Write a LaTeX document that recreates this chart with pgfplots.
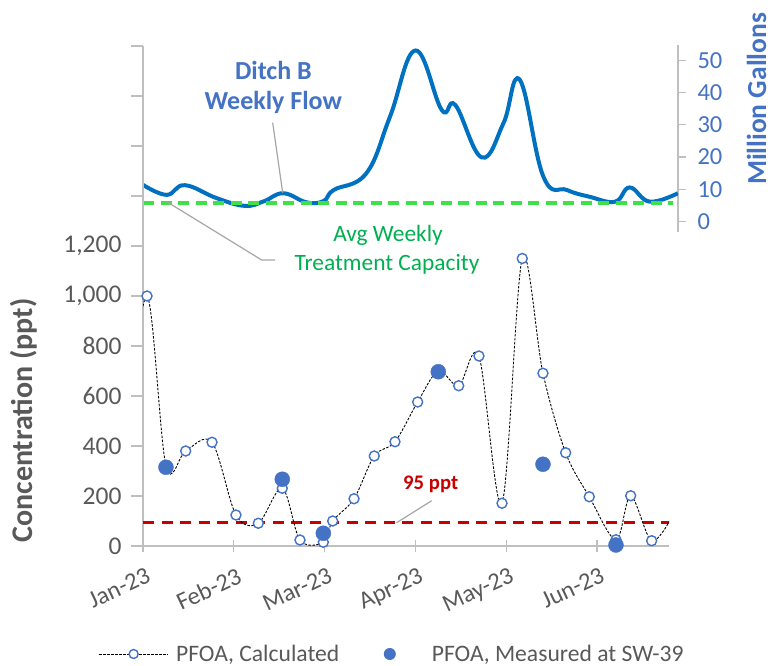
\documentclass[border=0pt]{standalone}
\usepackage{pgfplots}
\pgfplotsset{compat=1.18}
\usepackage{fontspec}
\setmainfont{Carlito}
\definecolor{txtgray}{RGB}{89,89,89}
\definecolor{axgray}{RGB}{191,191,191}
\definecolor{flowblue}{RGB}{0,112,192}
\definecolor{mblue}{RGB}{68,114,196}
\definecolor{dgreen}{RGB}{64,224,72}
\definecolor{tgreen}{RGB}{0,176,80}
\definecolor{dred}{RGB}{200,0,0}
\definecolor{leadgray}{RGB}{166,166,166}
\begin{document}
\begin{tikzpicture}
\path[use as bounding box] (0,0) rectangle (771bp,666bp);

% ---------- top axis: weekly flow ----------
\begin{axis}[
  at={(143bp,434.3bp)}, anchor=south west, scale only axis,
  width=535bp, height=186.7bp,
  xmin=0, xmax=5.892, ymin=-3.1, ymax=54.7,
  axis x line=none, axis y line*=right,
  axis line style={axgray, line width=1.2bp},
  ytick={0,10,20,30,40,50}, yticklabels={0,10,20,30,40,50},
  tick align=outside, major tick length=8bp,
  tick style={axgray, line width=1.2bp},
  yticklabel style={font=\fontsize{24.5bp}{28bp}\selectfont, text=mblue, anchor=west, xshift=8bp},
]
\addplot[flowblue, line width=4bp, smooth, tension=0.7] coordinates {
(0,11.4) (0.26,8.3) (0.46,11.3) (0.81,7.3) (1.12,4.9) (1.33,6.3) (1.545,8.8)
(1.80,6.0) (1.99,6.4) (2.10,9.8) (2.46,15) (2.72,32.5) (3.00,53) (3.29,34.6)
(3.44,36.1) (3.73,19.9) (3.97,30.5) (4.15,43.9) (4.41,13.9) (4.67,9.8)
(4.92,7.7) (5.20,6.2) (5.36,10.6) (5.58,6.2) (5.89,8.8)};
\addplot[dgreen, line width=4bp, dash pattern=on 11bp off 6.5bp] coordinates {(0,5.9) (5.837,5.9)};
\end{axis}

% ---------- bottom axis: concentration ----------
\begin{axis}[
  at={(143bp,120bp)}, anchor=south west, scale only axis,
  width=526bp, height=500bp,
  xmin=0, xmax=5.793, ymin=0, ymax=2000,
  axis x line*=bottom, axis y line*=left,
  axis line style={axgray, line width=1.2bp},
  xtick={0,1,2,3,4,5}, xticklabels={Jan-23,Feb-23,Mar-23,Apr-23,May-23,Jun-23},
  ytick={0,200,...,2000}, yticklabels={0,200,400,600,800,{1,000},{1,200},{},{},{},{}},
  tick align=center, major tick length=12bp,
  tick style={axgray, line width=1.2bp},
  ytick style={xshift=-6bp},
  yticklabel style={font=\fontsize{25.5bp}{30bp}\selectfont, text=txtgray, anchor=east, xshift=-12bp},
  xticklabel style={font=\fontsize{24.5bp}{28bp}\selectfont, text=txtgray, rotate=25, anchor=north east, inner sep=0bp, xshift=-4bp, yshift=-14bp},
  legend style={draw=none, fill=none, font=\fontsize{23.6bp}{28bp}\selectfont, text=txtgray,
    legend columns=2, at={(-0.0846,-0.216)}, anchor=west, inner sep=0pt,
    nodes={inner sep=0bp},
    /tikz/every odd column/.append style={column sep=7.5bp},
    /tikz/every even column/.append style={column sep=16bp}},
]
\addplot[dred, line width=3bp, dash pattern=on 11bp off 7.5bp, forget plot] coordinates {(0,95) (5.793,95)};
\addplot[black, line width=0.9bp, dash pattern=on 2.5bp off 1.5bp, smooth, tension=0.55, forget plot] coordinates {
(-0.2,420) (0.044,1000) (0.253,320) (0.470,380) (0.760,415) (1.024,124) (1.270,91)
(1.534,231) (1.729,24) (1.986,15) (2.089,100) (2.324,189) (2.547,360) (2.775,417)
(3.025,576) (3.252,700) (3.477,641) (3.700,760) (3.954,171) (4.177,1150) (4.405,691)
(4.655,373) (4.915,197) (5.209,25) (5.371,201) (5.602,21) (5.83,120)};
\addplot[only marks, mark=*, mark size=5bp, mark options={draw=mblue, fill=white, line width=1.4bp, solid}, forget plot] coordinates {
(0.044,1000) (0.253,320) (0.470,380) (0.760,415) (1.024,124) (1.270,91)
(1.534,231) (1.729,24) (1.986,15) (2.089,100) (2.324,189) (2.547,360) (2.775,417)
(3.025,576) (3.252,700) (3.477,641) (3.700,760) (3.954,171) (4.177,1150) (4.405,691)
(4.655,373) (4.915,197) (5.209,25) (5.371,201) (5.602,21)};
\addplot[only marks, mark=*, mark size=7.5bp, mark options={draw=mblue, fill=mblue}, forget plot] coordinates {
(0.253,315) (1.534,267) (1.986,51) (3.252,697) (4.405,327) (5.209,4)};
\addlegendimage{legend image code/.code={
  \draw[black, line width=0.9bp, dash pattern=on 2.5bp off 1.5bp] (0bp,0bp) -- (69bp,0bp);
  \draw[mblue, line width=1.4bp, fill=white] (34.5bp,0bp) circle (4.5bp);}}
\addlegendentry{PFOA, Calculated}
\addlegendimage{legend image code/.code={
  \path[draw=none, fill=none] (0bp,-1bp) rectangle (69bp,1bp);
  \fill[mblue, draw=none] (34.5bp,0bp) circle (6bp);}}
\addlegendentry{PFOA, Measured at SW-39}
\end{axis}

% ---------- annotations ----------
\node[font=\bfseries\fontsize{26bp}{30bp}\selectfont, text=mblue, anchor=base] at (273.4bp,586.7bp) {Ditch B};
\node[font=\bfseries\fontsize{26bp}{30bp}\selectfont, text=mblue, anchor=base] at (273.3bp,556bp) {Weekly Flow};
\draw[leadgray, line width=1.2bp] (272.7bp,543.3bp) -- (282.7bp,473.3bp);
\draw[leadgray, line width=1.2bp] (166.7bp,464.3bp) -- (261.7bp,406bp) -- (275bp,406bp);
\node[font=\fontsize{23.4bp}{28bp}\selectfont, text=tgreen, anchor=base] at (388bp,424.3bp) {Avg Weekly};
\node[font=\fontsize{23.4bp}{28bp}\selectfont, text=tgreen, anchor=base] at (387bp,395bp) {Treatment Capacity};
\node[font=\bfseries\fontsize{20.7bp}{24bp}\selectfont, text=dred, anchor=base] at (430.7bp,176bp) {95 ppt};
\draw[leadgray, line width=1.2bp] (431.7bp,165.3bp) -- (396.7bp,143.3bp);
\node[rotate=90, anchor=base, inner sep=0bp, font=\bfseries\fontsize{30bp}{34bp}\selectfont, text=txtgray] at (32.3bp,245.5bp) {Concentration (ppt)};
\node[rotate=90, anchor=base, inner sep=0bp, font=\bfseries\fontsize{27.5bp}{32bp}\selectfont, text=mblue] at (766bp,567bp) {Million Gallons};
\end{tikzpicture}
\end{document}
